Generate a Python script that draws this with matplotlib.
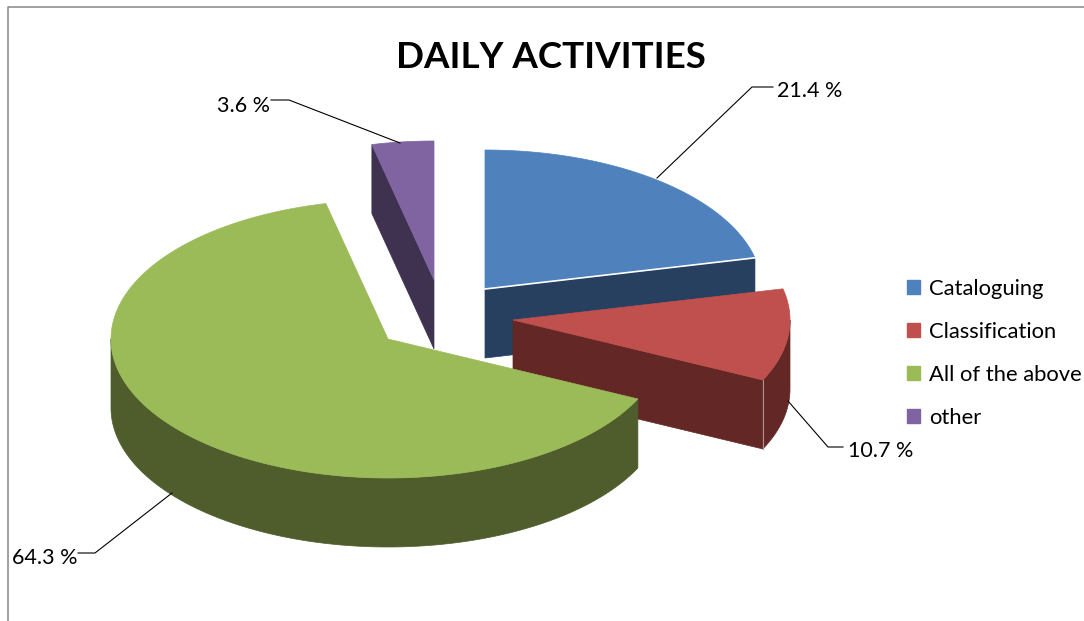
import numpy as np
import matplotlib
matplotlib.use('Agg')
import matplotlib.pyplot as plt
from matplotlib.patches import Polygon, Patch

categories = ['Cataloguing', 'Classification', 'All of the above', 'other']
values = [21.4, 10.7, 64.3, 3.6]
title = 'DAILY ACTIVITIES'

top_colors = ['#4F81BD', '#C0504D', '#9BBB59', '#8064A2']
side_colors = ['#274060', '#632826', '#4F5D2C', '#3F3150']

# pixel geometry of the tilted pie
rx, ry, depth = 277, 139, 69
apex = [(485, 289), (513, 320), (388, 339), (434, 280)]

plt.rcParams['font.family'] = ['Lato', 'DejaVu Sans']

fig = plt.figure(figsize=(10.84, 6.21), dpi=100)
ax = fig.add_axes([0, 0, 1, 1])
ax.set_xlim(0, 1084)
ax.set_ylim(621, 0)
ax.axis('off')

# angles run clockwise from 12 o'clock
edges = np.concatenate([[0], np.cumsum(values)]) / np.sum(values) * 2 * np.pi


def rim(i, a0, a1):
    t = np.linspace(a0, a1, 120)
    return np.column_stack([apex[i][0] + rx * np.sin(t), apex[i][1] - ry * np.cos(t)])


def extrude(pts):
    return np.vstack([pts, pts[::-1] + [0, depth]])


def cut_face(i, a):
    p = rim(i, a, a)[:1]
    return extrude(np.vstack([[apex[i]], p]))


for i in [0, 3, 1, 2]:
    a0, a1 = edges[i], edges[i + 1]
    c = side_colors[i]
    # visible cut faces
    if i == 0 or i == 1:
        ax.add_patch(Polygon(cut_face(i, a1), closed=True, fc=c, ec=c, lw=0.5))
    if i == 3:
        ax.add_patch(Polygon(cut_face(i, a0), closed=True, fc=c, ec=c, lw=0.5))
    # outer wall, front half only
    lo, hi = max(a0, np.pi / 2), min(a1, 3 * np.pi / 2)
    if lo < hi:
        ax.add_patch(Polygon(extrude(rim(i, lo, hi)), closed=True, fc=c, ec=c, lw=0.5))
    if i == 1:
        p = rim(i, a1, a1)[0]
        ax.plot([p[0], p[0]], [p[1], p[1] + depth], color='#B09090', lw=0.8)
    top = np.vstack([[apex[i]], rim(i, a0, a1)])
    ax.add_patch(Polygon(top, closed=True, fc=top_colors[i], ec=top_colors[i], lw=0.5))
    if i == 0:
        # white edge under the blue slice
        p = rim(0, a1, a1)[0]
        ax.plot([apex[0][0], p[0]], [apex[0][1], p[1]], color='white', lw=1.2)

# chart border
ax.plot([7.5, 7.5, 1084], [621, 6.5, 6.5], color='#868686', lw=1.1)

ax.text(551, 57, title, ha='center', va='center', fontsize=26.5, fontweight='bold', color='black')

# data labels with leader lines
leaders = [
    ([657, 752, 773], [178, 87, 87], 777, 91, 'left'),
    ([788, 828, 843], [401, 447, 447], 848, 451, 'left'),
    ([172, 95, 78], [493, 553, 553], 78, 558, 'right'),
    ([400, 289, 271], [143, 100, 100], 270, 106, 'right'),
]
for v, (lx, ly, tx, ty, ha) in zip(values, leaders):
    ax.plot(lx, ly, color='black', lw=0.8)
    ax.text(tx, ty, f'{v} %', ha=ha, va='center', fontsize=15.5, color='black')

handles = [Patch(fc=c, ec=c) for c in top_colors]
ax.legend(handles, categories, loc='upper left', bbox_to_anchor=(907 / 1084, 1 - 279 / 621),
          frameon=False, fontsize=15.8, handlelength=0.6, handleheight=0.6, handletextpad=0.42,
          labelspacing=1.05, borderaxespad=0, borderpad=0)

plt.savefig('out.png', dpi=100)
plt.close()
